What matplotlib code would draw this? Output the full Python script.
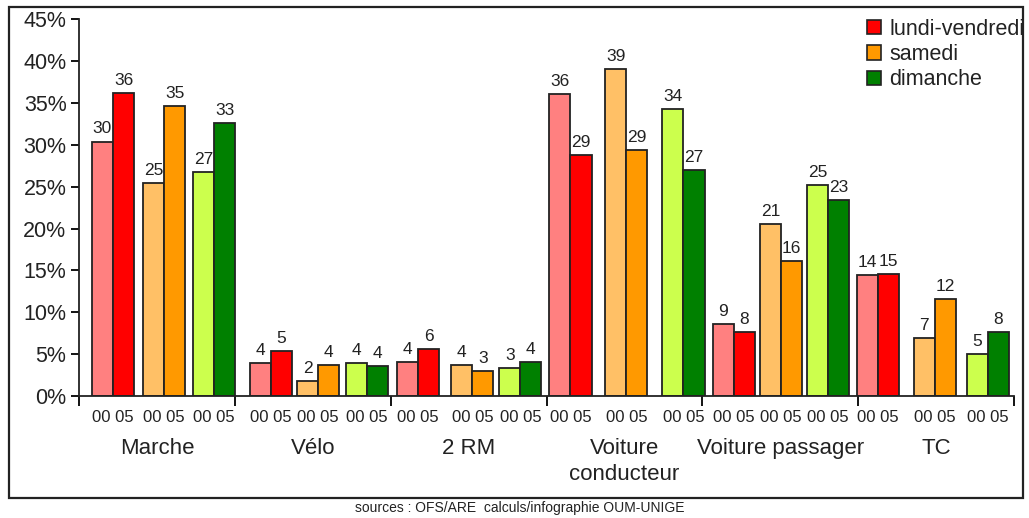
import matplotlib
matplotlib.use('Agg')
import numpy as np
from matplotlib import pyplot as plt
from matplotlib.patches import Rectangle, Patch
from matplotlib.transforms import blended_transform_factory

plt.rcParams['font.family'] = ['Liberation Sans', 'DejaVu Sans']

# data
categories = ['Marche', 'Vélo', '2 RM', 'Voiture\nconducteur', 'Voiture passager', 'TC']
periods = ['lundi-vendredi', 'samedi', 'dimanche']
years = ['00', '05']

# share (%) per category, period: [2000, 2005]
lv_00 = [30.4, 3.9, 4.1, 36.1, 8.6, 14.4]
lv_05 = [36.2, 5.4, 5.6, 28.8, 7.6, 14.6]
sa_00 = [25.4, 1.8, 3.7, 39.1, 20.6, 6.9]
sa_05 = [34.6, 3.7, 3.0, 29.4, 16.1, 11.6]
di_00 = [26.8, 3.9, 3.4, 34.3, 25.2, 5.0]
di_05 = [32.6, 3.6, 4.1, 27.0, 23.4, 7.6]

yticks = [0, 5, 10, 15, 20, 25, 30, 35, 40, 45]

# layout
colors_00 = ['#ff8080', '#ffc066', '#ccff4d']
colors_05 = ['#ff0000', '#ff9900', '#008000']
# centre of each pair inside its group (group width = 1)
pair_pos = [[0.218, 0.546, 0.867],
            [0.233, 0.535, 0.850],
            [0.177, 0.524, 0.832],
            [0.154, 0.513, 0.879],
            [0.202, 0.504, 0.806],
            [0.125, 0.491, 0.832]]
bw = 0.135

fig = plt.figure(figsize=(10.29, 5.18), dpi=100)
ax = fig.add_axes([79 / 1029, 1 - 396 / 518, 935 / 1029, (396 - 19.3) / 518])

series = [(lv_00, lv_05), (sa_00, sa_05), (di_00, di_05)]
centers = []
for p, (v00, v05) in enumerate(series):
    for g in range(len(categories)):
        c = g + pair_pos[g][p]
        centers.append(c)
        for x, v, col in [(c - bw / 2, v00[g], colors_00[p]), (c + bw / 2, v05[g], colors_05[p])]:
            ax.bar(x, v, width=bw, color=col, edgecolor='#222222', linewidth=1.3, zorder=2)
            ax.text(x, v + 0.6, '%d' % round(v), ha='center', va='bottom',
                    fontsize=12.5, color='#222222')

ax.set_xlim(0, len(categories))
ax.set_ylim(0, 45)
ax.set_yticks(yticks)
ax.set_yticklabels(['%d%%' % t for t in yticks], fontsize=15.5, color='#222222')
ax.tick_params(axis='y', length=6, width=1.3, pad=3)

ax.set_xticks(sorted(centers))
ax.set_xticklabels([' '.join(years)] * len(centers), fontsize=12, color='#222222')
ax.tick_params(axis='x', which='major', length=0, pad=10)
ax.set_xticks(np.arange(len(categories) + 1), minor=True)
ax.tick_params(axis='x', which='minor', length=7, width=1.3)

for s in ['top', 'right']:
    ax.spines[s].set_visible(False)
for s in ['left', 'bottom']:
    ax.spines[s].set_linewidth(1.3)
    ax.spines[s].set_color('#222222')

trans = blended_transform_factory(ax.transData, ax.transAxes)
for g, name in enumerate(categories):
    ax.text(g + 0.5, -0.112, name, transform=trans, ha='center', va='top',
            fontsize=16, color='#222222', linespacing=1.3)

handles = [Patch(facecolor=c, edgecolor='#222222', linewidth=1.2) for c in colors_05]
fig.legend(handles, periods, loc='upper left', bbox_to_anchor=(856 / 1029, 1 - 8 / 518),
           frameon=False, fontsize=15.5, handlelength=0.65, handleheight=0.65,
           handletextpad=0.4, labelspacing=0.2, borderpad=0, labelcolor='#222222')

fig.patches.append(Rectangle((9 / 1029, 1 - 497.5 / 518), 1014 / 1029, 491 / 518,
                             transform=fig.transFigure, fill=False,
                             edgecolor='#222222', linewidth=1.6))
fig.text(520 / 1029, 1 - 508 / 518, 'sources : OFS/ARE  calculs/infographie OUM-UNIGE',
         ha='center', va='center', fontsize=10, color='#222222')

fig.savefig('out.png', dpi=100)
